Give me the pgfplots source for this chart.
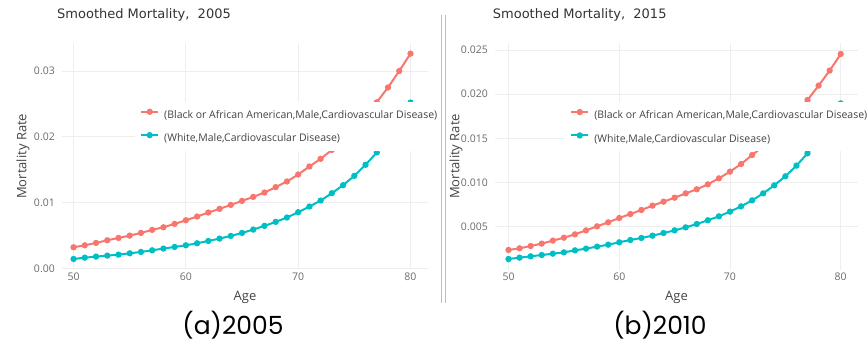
\documentclass[border=0pt]{standalone}
\usepackage{fontspec}
\setmainfont{Open Sans}
\newfontfamily\titlefont{DejaVu Sans}
\newfontfamily\capfont{Poppins}
\usepackage{pgfplots}
\pgfplotsset{compat=1.18}
\definecolor{cred}{HTML}{F8766D}
\definecolor{ccyan}{HTML}{00BFC4}
\definecolor{gridc}{HTML}{EEEEEE}
\definecolor{tickc}{HTML}{6A6A6A}
\definecolor{txtc}{HTML}{444444}

\pgfplotsset{mort/.style={
 scale only axis, axis line style={draw=none}, tick style={draw=none},
 grid=major, grid style={gridc, line width=0.8bp},
 xtick={50,60,70,80}, xticklabels={50,60,70,80},
 scaled y ticks=false, scaled x ticks=false,
 /pgf/number format/assume math mode=true,
 ticklabel style={font=\fontsize{10.5bp}{12bp}\selectfont, text=tickc},
 yticklabel style={inner sep=0pt, xshift=-7bp},
 xticklabel style={inner sep=0pt, yshift=-3.5bp},
 xlabel={Age}, ylabel={Mortality Rate},
 every axis x label/.style={at={(rel axis cs:0.5,0)}, yshift=-28bp, anchor=center, font=\fontsize{13bp}{15bp}\selectfont, text=txtc},
 every axis y label/.style={at={(rel axis cs:0,0.5)}, xshift=-39bp, rotate=90, anchor=center, font=\fontsize{13bp}{15bp}\selectfont, text=txtc},
 title style={font=\titlefont\fontsize{13bp}{15bp}\selectfont, text=black!80, at={(rel axis cs:0,1)}, anchor=west, inner sep=0pt, yshift=22bp},
 legend cell align=left,
 legend style={draw=none, fill=white, inner xsep=5bp, inner ysep=7.5bp, column sep=5bp, row sep=13bp, font=\fontsize{10.5bp}{12bp}\selectfont, text=txtc, nodes={inner sep=0pt}, anchor=north west},
 legend image code/.code={\draw[mark repeat=2,mark phase=2,#1] plot coordinates {(0bp,3.5bp)(8.5bp,3.5bp)(17bp,3.5bp)};},
 every axis plot/.append style={line width=2bp, mark=*, mark size=2.1bp, mark options={line width=0.4bp}},
}}

\begin{document}
\begin{tikzpicture}
\path[use as bounding box] (0,0) rectangle (867bp,344bp);

\begin{axis}[mort, at={(62bp,74.7bp)}, anchor=south west, width=366bp, height=226bp,
  xmin=48.97, xmax=81.56, ymin=-0.00015, ymax=0.03421,
  ytick={0,0.01,0.02,0.03}, yticklabels={0.00,0.01,0.02,0.03},
  title={Smoothed Mortality,\ \ 2005}, title style={xshift=-5bp},
  legend style={at={(rel axis cs:0.1995,0.7403)}}]
\addplot[cred, mark options={fill=cred}] coordinates {
(50,0.00320)(51,0.00350)(52,0.00386)(53,0.00426)(54,0.00462)(55,0.00497)(56,0.00538)(57,0.00584)(58,0.00624)(59,0.00675)(60,0.00731)(61,0.00787)(62,0.00848)(63,0.00904)(64,0.00964)(65,0.01025)(66,0.01086)(67,0.01152)(68,0.01234)(69,0.01320)(70,0.01426)(71,0.01548)(72,0.01665)(73,0.01800)(74,0.01950)(75,0.02120)(76,0.02310)(77,0.02525)(78,0.02750)(79,0.03000)(80,0.03264)};
\addlegendentry{(Black or African American,Male,Cardiovascular Disease)}
\addplot[ccyan, mark options={fill=ccyan}] coordinates {
(50,0.00142)(51,0.00162)(52,0.00178)(53,0.00193)(54,0.00208)(55,0.00228)(56,0.00249)(57,0.00274)(58,0.00300)(59,0.00325)(60,0.00350)(61,0.00381)(62,0.00416)(63,0.00452)(64,0.00492)(65,0.00538)(66,0.00589)(67,0.00645)(68,0.00706)(69,0.00772)(70,0.00853)(71,0.00939)(72,0.01030)(73,0.01142)(74,0.01264)(75,0.01406)(76,0.01574)(77,0.01761)(78,0.01980)(79,0.02230)(80,0.02520)};
\addlegendentry{(White,Male,Cardiovascular Disease)}
\end{axis}

\begin{axis}[mort, at={(495bp,74.5bp)}, anchor=south west, width=363bp, height=226.2bp,
  xmin=48.78, xmax=81.56, ymin=0.00015, ymax=0.02576,
  ytick={0.005,0.01,0.015,0.02,0.025}, yticklabels={0.005,0.010,0.015,0.020,0.025},
  title={Smoothed Mortality,\ \ 2015}, title style={xshift=-2.3bp},
  legend style={at={(rel axis cs:0.193,0.7392)}}]
\addplot[cred, mark options={fill=cred}] coordinates {
(50,0.00236)(51,0.00255)(52,0.00281)(53,0.00308)(54,0.00342)(55,0.00375)(56,0.00413)(57,0.00458)(58,0.00504)(59,0.00549)(60,0.00598)(61,0.00643)(62,0.00689)(63,0.00738)(64,0.00783)(65,0.00828)(66,0.00877)(67,0.00923)(68,0.00979)(69,0.01047)(70,0.01123)(71,0.01209)(72,0.01311)(73,0.01410)(74,0.01520)(75,0.01650)(76,0.01790)(77,0.01934)(78,0.02097)(79,0.02267)(80,0.02455)};
\addlegendentry{(Black or African American,Male,Cardiovascular Disease)}
\addplot[ccyan, mark options={fill=ccyan}] coordinates {
(50,0.00134)(51,0.00149)(52,0.00164)(53,0.00179)(54,0.00194)(55,0.00209)(56,0.00232)(57,0.00251)(58,0.00274)(59,0.00296)(60,0.00323)(61,0.00349)(62,0.00372)(63,0.00398)(64,0.00428)(65,0.00458)(66,0.00492)(67,0.00530)(68,0.00572)(69,0.00617)(70,0.00670)(71,0.00730)(72,0.00798)(73,0.00877)(74,0.00968)(75,0.01070)(76,0.01191)(77,0.01330)(78,0.01490)(79,0.01680)(80,0.01896)};
\addlegendentry{(White,Male,Cardiovascular Disease)}
\end{axis}

\draw[color=black!25, line width=0.8bp] (441.7bp,41bp) -- (441.7bp,329bp);
\draw[color=black!25, line width=0.8bp] (445bp,41bp) -- (445bp,329bp);
\node[font=\capfont\fontsize{25bp}{30bp}\selectfont, inner sep=0pt, anchor=base] at (233bp,9.5bp) {(a)2005};
\node[font=\capfont\fontsize{25bp}{30bp}\selectfont, inner sep=0pt, anchor=base] at (660bp,9.5bp) {(b)2010};
\end{tikzpicture}
\end{document}
